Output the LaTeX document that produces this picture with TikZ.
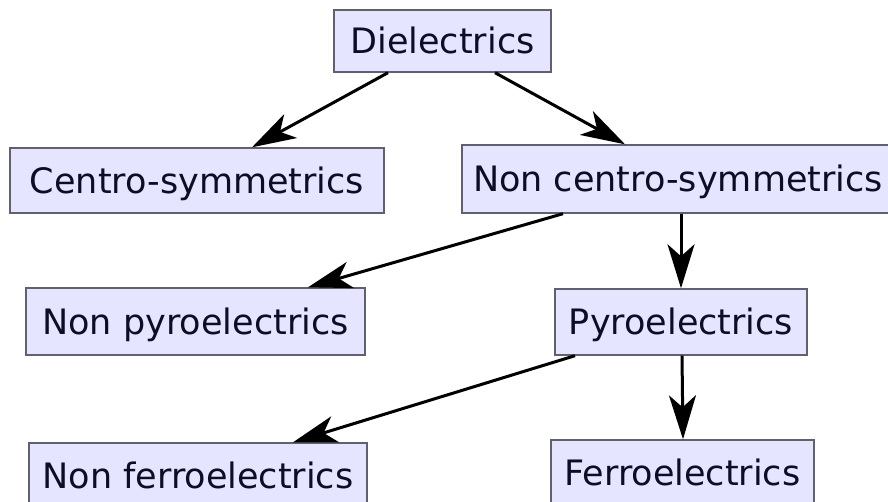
\documentclass[tikz,border=0pt]{standalone}
\usepackage{fontspec}
\setmainfont{DejaVu Sans}
\usetikzlibrary{arrows.meta}
\definecolor{boxfill}{HTML}{E5E5FF}
\definecolor{boxline}{HTML}{606070}
\definecolor{txt}{HTML}{0D0D26}
\tikzset{
  catbox/.style={draw=boxline, line width=1.4pt, fill=boxfill, inner sep=0pt,
    text=txt, font=\fontsize{35pt}{42pt}\selectfont, text height=25.5pt, text depth=0pt,
    minimum height=#1},
  catbox/.default=66pt,
  link/.style={line width=3pt, -{Stealth[length=44pt,width=27pt,inset=12pt]}}
}
\begin{document}
\begin{tikzpicture}[x=1pt,y=-1pt]
\useasboundingbox (0,0) rectangle (888,502);
\clip (0,0) rectangle (888,502);
\node[catbox=62pt, minimum width=217pt] (diel) at (442.5,41) {Dielectrics};
\node[catbox=65pt, minimum width=374pt] (centro) at (197,180.5) {Centro-symmetrics};
\node[catbox=68pt, minimum width=432pt] (noncentro) at (678,179) {Non centro-symmetrics};
\node[catbox=67pt, minimum width=339pt] (nonpyro) at (195.5,321.5) {Non pyroelectrics};
\node[catbox=66pt, minimum width=252pt] (pyro) at (681,322) {Pyroelectrics};
\node[catbox=66pt, minimum width=338pt] (nonferro) at (198,476) {Non ferroelectrics};
\node[catbox=66pt, minimum width=263pt] (ferro) at (682.5,473) {Ferroelectrics};
\draw[link] ([xshift=-54.5pt]diel.south) -- ([xshift=55pt]centro.north);
\draw[link] ([xshift=52.5pt]diel.south) -- ([xshift=-53pt]noncentro.north);
\draw[link] ([xshift=-115pt]noncentro.south) -- ([xshift=112.5pt]nonpyro.north);
\draw[link] ([xshift=3pt]noncentro.south) -- (pyro.north);
\draw[link] ([xshift=-106pt]pyro.south) -- ([xshift=95pt]nonferro.north);
\draw[link] ([xshift=1pt]pyro.south) -- ([xshift=0.5pt]ferro.north);
\end{tikzpicture}
\end{document}
